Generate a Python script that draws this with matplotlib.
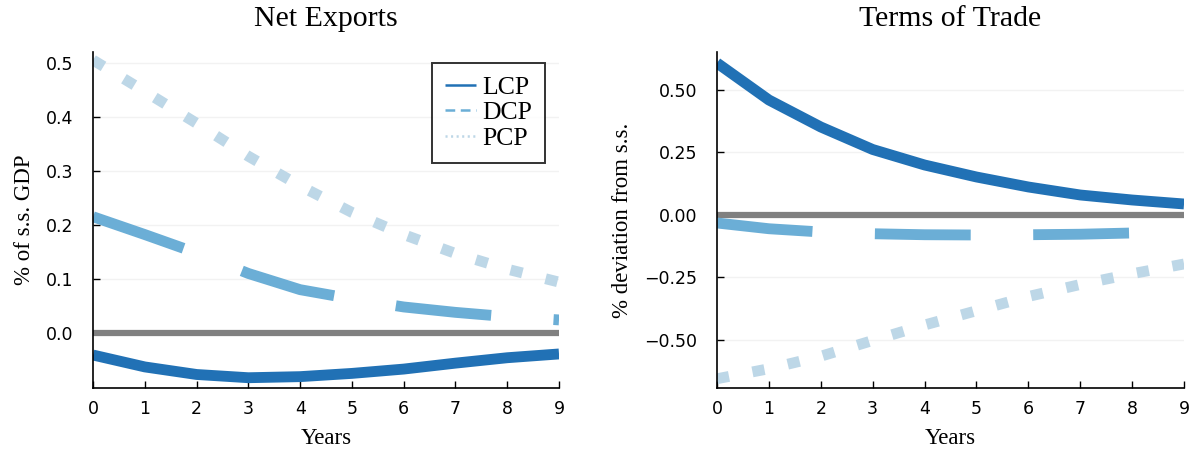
import numpy as np
import matplotlib.pyplot as plt
from matplotlib.lines import Line2D

plt.rcParams['lines.scale_dashes'] = False

years = np.arange(10)

# Net exports, % of s.s. GDP
nx_lcp = [-0.041, -0.063, -0.077, -0.083, -0.081, -0.075, -0.067, -0.056, -0.046, -0.039]
nx_dcp = [0.215, 0.182, 0.148, 0.110, 0.080, 0.063, 0.048, 0.038, 0.030, 0.024]
nx_pcp = [0.505, 0.447, 0.388, 0.327, 0.272, 0.223, 0.182, 0.147, 0.118, 0.094]

# Terms of trade, % deviation from s.s.
tot_lcp = [0.608, 0.46, 0.352, 0.262, 0.200, 0.152, 0.112, 0.080, 0.060, 0.044]
tot_dcp = [-0.032, -0.055, -0.068, -0.075, -0.079, -0.080, -0.079, -0.077, -0.072, -0.068]
tot_pcp = [-0.655, -0.615, -0.565, -0.502, -0.440, -0.383, -0.326, -0.278, -0.235, -0.196]

labels = ["LCP", "DCP", "PCP"]
colors = ["#2171b5", "#6baed6", "#bdd7e7"]
styles = [(0, ()), (0, (69, 45)), (0, (8.8, 17.2))]

serif = "Liberation Serif"
fig = plt.figure(figsize=(11.96, 4.54), dpi=100)
ax1 = fig.add_axes([0.0778, 0.1454, 0.3896, 0.7401])
ax2 = fig.add_axes([0.5995, 0.1454, 0.3905, 0.7401])


def draw(ax, series, title, ylabel, ylim, yticks, yfmt):
    ax.axhline(0, color="#808080", lw=4.5, zorder=1)
    for vals, c, ls in zip(series, colors, styles):
        ax.plot(years, vals, color=c, lw=7.8, linestyle=ls,
                solid_capstyle="butt", dash_capstyle="butt", zorder=2)
    ax.set_xlim(0, 9)
    ax.set_ylim(*ylim)
    ax.set_xticks(years)
    ax.set_yticks(yticks)
    ax.set_yticklabels([yfmt.format(t).replace("-", "\u2212") for t in yticks])
    ax.tick_params(direction="in", length=5, width=1, labelsize=12.5)
    ax.tick_params(axis="x", pad=9)
    ax.tick_params(axis="y", pad=14)
    for s in ["top", "right"]:
        ax.spines[s].set_visible(False)
    for s in ["left", "bottom"]:
        ax.spines[s].set_linewidth(1.2)
    ax.grid(axis="y", color="#000000", alpha=0.05, lw=1)
    ax.set_axisbelow(True)
    ax.set_title(title, fontfamily=serif, fontsize=21.5, pad=19)
    ax.set_xlabel("Years", fontfamily=serif, fontsize=16.5, labelpad=7)
    ax.set_ylabel(ylabel, fontfamily=serif, fontsize=16.5, labelpad=8)


draw(ax1, [nx_lcp, nx_dcp, nx_pcp], "Net Exports", "% of s.s. GDP",
     (-0.102, 0.52), [0.0, 0.1, 0.2, 0.3, 0.4, 0.5], "{:.1f}")
draw(ax2, [tot_lcp, tot_dcp, tot_pcp], "Terms of Trade", "% deviation from s.s.",
     (-0.692, 0.652), [-0.5, -0.25, 0.0, 0.25, 0.5], "{:.2f}")

handles = [Line2D([], [], color=c, lw=1.8,
                  linestyle=[(0, ()), (0, (7, 4)), (0, (1.5, 2.5))][i])
           for i, c in enumerate(colors)]
leg = ax1.legend(handles, labels, loc="upper right", bbox_to_anchor=(0.97, 0.967),
                 prop={"family": serif, "size": 18.5}, frameon=True, fancybox=False,
                 handlelength=1.2, handletextpad=0.25, labelspacing=0.1,
                 borderpad=0.5, borderaxespad=0)
leg.get_frame().set_edgecolor("black")
leg.get_frame().set_linewidth(1.4)

fig.savefig("out.png", dpi=100)
